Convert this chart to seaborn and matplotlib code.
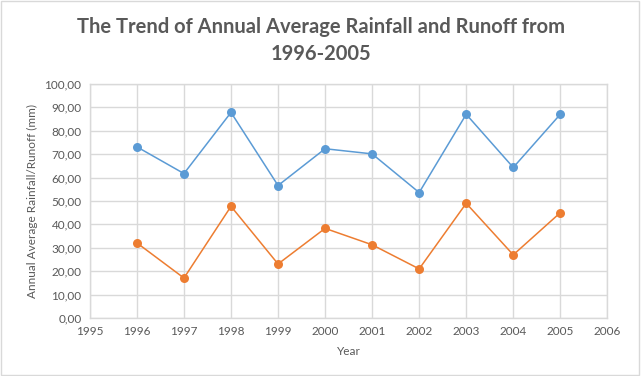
import matplotlib
matplotlib.use("Agg")
import matplotlib.pyplot as plt
import matplotlib.ticker as mticker
import pandas as pd
import seaborn as sns

# Data
years = [1996, 1997, 1998, 1999, 2000, 2001, 2002, 2003, 2004, 2005]
rainfall = [73.1, 61.7, 87.8, 56.6, 72.3, 70.1, 53.6, 87.0, 64.3, 87.0]
runoff = [32.1, 17.1, 47.7, 23.1, 38.3, 31.3, 21.0, 49.0, 27.0, 45.0]

BLUE = "#5b9bd5"
ORANGE = "#ed7d31"
TEXT = "#595959"
GRID = "#d9d9d9"

sns.set_style("white")
plt.rcParams['font.family'] = ['Lato', 'DejaVu Sans']

df = pd.DataFrame({"Year": years, "Rainfall": rainfall, "Runoff": runoff})

fig = plt.figure(figsize=(6.42, 3.76), dpi=100)
ax = fig.add_axes([0.140, 0.154, 0.806, 0.623])

for col, color in [("Rainfall", BLUE), ("Runoff", ORANGE)]:
    sns.lineplot(data=df, x="Year", y=col, ax=ax, color=color, linewidth=1.1,
                 marker="o", markersize=6.5, markeredgewidth=0, zorder=3)

ax.set_xlim(1995, 2006)
ax.set_ylim(0, 100)
ax.xaxis.set_major_locator(mticker.MultipleLocator(1))
ax.yaxis.set_major_locator(mticker.MultipleLocator(10))
ax.yaxis.set_major_formatter(mticker.FuncFormatter(lambda v, p: f"{v:.2f}".replace(".", ",")))
ax.grid(True, color=GRID, linewidth=1)
ax.set_axisbelow(True)
for s in ax.spines.values():
    s.set_color(GRID)
    s.set_linewidth(1)
ax.tick_params(axis="both", length=0, labelsize=8.5, colors=TEXT, pad=6)

ax.set_xlabel("Year", fontsize=8.5, color=TEXT, labelpad=6)
ax.set_ylabel("Annual Average Rainfall/Runoff (mm)", fontsize=8.5, color=TEXT, labelpad=5)

fig.suptitle("The Trend of Annual Average Rainfall and Runoff from\n1996-2005",
             x=0.5, y=0.955, fontsize=14.5, fontweight="bold", color=TEXT,
             linespacing=1.45)

# outer chart border
fig.patches.append(plt.Rectangle((0.002, 0.003), 0.994, 0.994, transform=fig.transFigure,
                                 fill=False, edgecolor=GRID, linewidth=1))

fig.savefig("out.png", dpi=100)
